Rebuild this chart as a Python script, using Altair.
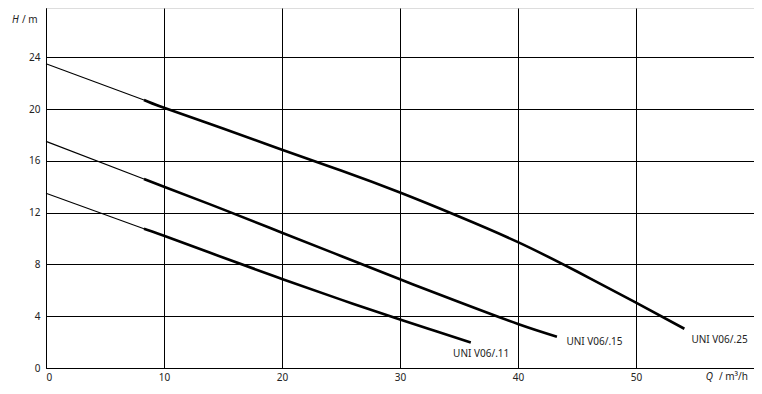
import altair as alt
import pandas as pd

# Pump curves (Q in m3/h, H in m)
curve_names = ["UNI V06/.11", "UNI V06/.15", "UNI V06/.25"]
q_11 = [0, 8.3, 10, 15, 20, 25, 30, 33, 36.0]
h_11 = [13.5, 10.76, 10.22, 8.53, 6.88, 5.28, 3.75, 2.86, 1.97]
q_15 = [0, 8.3, 10, 15, 20, 25, 30, 35, 40, 43.3]
h_15 = [17.5, 14.6, 14.0, 12.25, 10.45, 8.65, 6.85, 5.1, 3.4, 2.42]
q_25 = [0, 8.3, 10, 15, 20, 25, 30, 35, 40, 45, 50, 54.1]
h_25 = [23.5, 20.7, 20.1, 18.5, 16.85, 15.25, 13.55, 11.7, 9.72, 7.45, 5.05, 3.03]
thick_start = 8.3

label_q = [34.5, 44.1, 54.7]
label_h = [1.06, 1.97, 2.2]

x_ticks = [0, 10, 20, 30, 40, 50, 60]
y_ticks = [0, 4, 8, 12, 16, 20, 24]

rows = []
for name, qs, hs in zip(curve_names, [q_11, q_15, q_25], [h_11, h_15, h_25]):
    for q, h in zip(qs, hs):
        if q <= thick_start:
            rows.append({"curve": name, "seg": "thin", "key": name + "thin", "Q": q, "H": h})
        if q >= thick_start:
            rows.append({"curve": name, "seg": "thick", "key": name + "thick", "Q": q, "H": h})
df = pd.DataFrame(rows)
labels = pd.DataFrame({"name": curve_names, "Q": label_q, "H": label_h})

FONT = "Noto Sans"
TXT = "#222222"
W, H = 708, 360

xscale = alt.Scale(domain=[0, 60], nice=False, zero=False)
yscale = alt.Scale(domain=[0, 27.8], nice=False, zero=False)

lines = alt.Chart(df).mark_line(color="black", interpolate="natural", strokeCap="butt").encode(
    x=alt.X("Q:Q", scale=xscale,
            axis=alt.Axis(values=x_ticks, title=None, grid=True, gridColor="#000", gridWidth=1,
                          ticks=False, tickSize=0, labelPadding=4, labelFont=FONT, labelFontSize=10,
                          labelColor=TXT, domainColor="#000",
                          labelExpr="datum.value == 60 ? '' : datum.label")),
    y=alt.Y("H:Q", scale=yscale,
            axis=alt.Axis(values=y_ticks, title=None, grid=True, gridColor="#000", gridWidth=1,
                          ticks=False, tickSize=0, labelPadding=6, labelFont=FONT, labelFontSize=10,
                          labelColor=TXT, domainColor="#000")),
    detail="key:N",
    strokeWidth=alt.StrokeWidth("seg:N", scale=alt.Scale(domain=["thin", "thick"], range=[1.1, 2.6]),
                                legend=None),
)

curve_labels = alt.Chart(labels).mark_text(align="left", baseline="middle", font=FONT, fontSize=10,
                                           color=TXT).encode(
    x=alt.X("Q:Q", scale=xscale), y=alt.Y("H:Q", scale=yscale), text="name:N")

one = alt.Data(values=[{}])
h_it = alt.Chart(one).mark_text(align="left", baseline="middle", font=FONT, fontSize=10,
                                fontStyle="italic", color=TXT).encode(
    x=alt.value(-34), y=alt.value(12), text=alt.value("H"))
h_unit = alt.Chart(one).mark_text(align="left", baseline="middle", font=FONT, fontSize=10,
                                  color=TXT).encode(
    x=alt.value(-24), y=alt.value(12), text=alt.value("/ m"))
q_it = alt.Chart(one).mark_text(align="right", baseline="top", font=FONT, fontSize=10,
                                fontStyle="italic", color=TXT).encode(
    x=alt.value(W - 41), y=alt.value(H + 4), text=alt.value("Q"))
q_unit = alt.Chart(one).mark_text(align="right", baseline="top", font=FONT, fontSize=10,
                                  color=TXT).encode(
    x=alt.value(W - 6), y=alt.value(H + 4), text=alt.value("/ m³/h"))

chart = alt.layer(lines, curve_labels, h_it, h_unit, q_it, q_unit).properties(
    width=W, height=H,
    autosize=alt.AutoSizeParams(type="none"),
    padding={"left": 38, "top": 0, "right": 0, "bottom": 14},
).configure_view(stroke="#000", strokeWidth=1).configure(background="white")

chart.save("out.html", embed_options={"renderer": "svg", "actions": False})
